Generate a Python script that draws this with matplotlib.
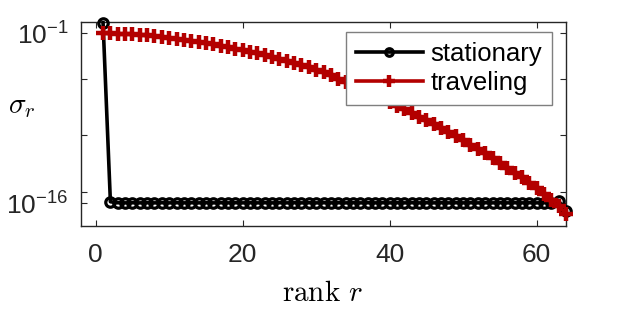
import numpy as np
import matplotlib
matplotlib.use("Agg")
import matplotlib.pyplot as plt

plt.rcParams['font.family'] = ['Liberation Sans', 'DejaVu Sans']
plt.rcParams['mathtext.fontset'] = 'custom'
plt.rcParams['mathtext.rm'] = 'Liberation Sans'
plt.rcParams['mathtext.it'] = 'Liberation Sans:italic'

# ---- data ----
rank = list(range(1, 65))

stationary_log10 = [
    -0.06, -15.86, -15.95, -15.96, -15.95, -15.96, -15.95, -15.96,
    -15.95, -15.96, -15.95, -15.96, -15.95, -15.96, -15.95, -15.96,
    -15.95, -15.96, -15.95, -15.96, -15.95, -15.96, -15.95, -15.96,
    -15.95, -15.96, -15.95, -15.96, -15.95, -15.96, -15.95, -15.96,
    -15.95, -15.96, -15.95, -15.96, -15.95, -15.96, -15.95, -15.96,
    -15.95, -15.96, -15.95, -15.96, -15.95, -15.96, -15.95, -15.96,
    -15.95, -15.96, -15.95, -15.96, -15.95, -15.96, -15.95, -15.96,
    -15.95, -15.96, -15.95, -15.96, -15.95, -15.96, -15.80, -16.65,
]

traveling_log10 = [
    -1.00, -1.01, -1.03, -1.06, -1.10, -1.14, -1.19, -1.25,
    -1.32, -1.40, -1.48, -1.57, -1.66, -1.76, -1.87, -1.98,
    -2.10, -2.22, -2.35, -2.48, -2.62, -2.77, -2.93, -3.09,
    -3.26, -3.44, -3.62, -3.81, -4.00, -4.20, -4.45, -4.70,
    -5.00, -5.30, -5.60, -5.90, -6.20, -6.50, -6.80, -7.10,
    -7.40, -7.71, -8.02, -8.34, -8.67, -9.00, -9.34, -9.70,
    -10.06, -10.43, -10.81, -11.20, -11.60, -12.00, -12.42, -12.84,
    -13.28, -13.72, -14.18, -14.66, -15.16, -15.68, -16.25, -16.90,
]

series_names = ["stationary", "traveling"]
xtick_vals = [0, 20, 40, 60]
ytick_vals = [1e-16, 1e-15, 1e-10, 1e-5, 1e-1]
ytick_labels = [r'$\mathregular{10^{-16}}$', '', '', '', r'$\mathregular{10^{-1}}$']

stationary = 10.0 ** np.array(stationary_log10)
traveling = 10.0 ** np.array(traveling_log10)

# ---- figure ----
fig = plt.figure(figsize=(6.25, 3.12), dpi=100)
ax = fig.add_axes([81/625, 1 - 226/312, 485/625, 204/312])

red = '#b30000'
ax.plot(rank, stationary, color='black', lw=2.6, marker='o', ms=6.8,
        mew=2.3, mfc='none', mec='black', label=series_names[0],
        clip_on=False, zorder=3)
ax.plot(rank, traveling, color=red, lw=2.6, marker='+', ms=10,
        mew=3.2, label=series_names[1], clip_on=False, zorder=4)

ax.set_yscale('log')
ax.set_xlim(-2, 64)
ax.set_ylim(1e-18, 1e0)
ax.set_xticks(xtick_vals)
ax.set_xticklabels([str(v) for v in xtick_vals])
ax.set_yticks(ytick_vals)
ax.set_yticklabels(ytick_labels)
ax.yaxis.set_minor_locator(matplotlib.ticker.NullLocator())

gray = '#262626'
for s in ax.spines.values():
    s.set_color(gray)
    s.set_linewidth(1.0)
ax.tick_params(direction='in', length=4, width=0.8, color=gray,
               labelcolor=gray, labelsize=19, top=True, right=True)
ax.tick_params(axis='x', pad=12)
ax.tick_params(axis='y', pad=9)

ax.set_xlabel(r'$\mathrm{rank}\ r$', fontsize=21, math_fontfamily='cm',
              va='center')
ax.xaxis.set_label_coords(0.497, -0.33)
ax.set_ylabel(r'$\sigma_r$', fontsize=21, rotation=0, math_fontfamily='cm',
              ha='center', va='center')
ax.yaxis.set_label_coords(-0.122, 0.59)

leg = ax.legend(loc='upper right', bbox_to_anchor=(0.971, 0.951),
                borderaxespad=0, fancybox=False, framealpha=1,
                edgecolor='#7f7f7f', fontsize=18.5, handlelength=2.6,
                handletextpad=0.3, borderpad=0.38, labelspacing=0.2)
leg.get_frame().set_linewidth(1.0)
for h in leg.get_lines():
    h.set_markersize(h.get_markersize() * 0.8)

fig.savefig('out.png', dpi=100)
